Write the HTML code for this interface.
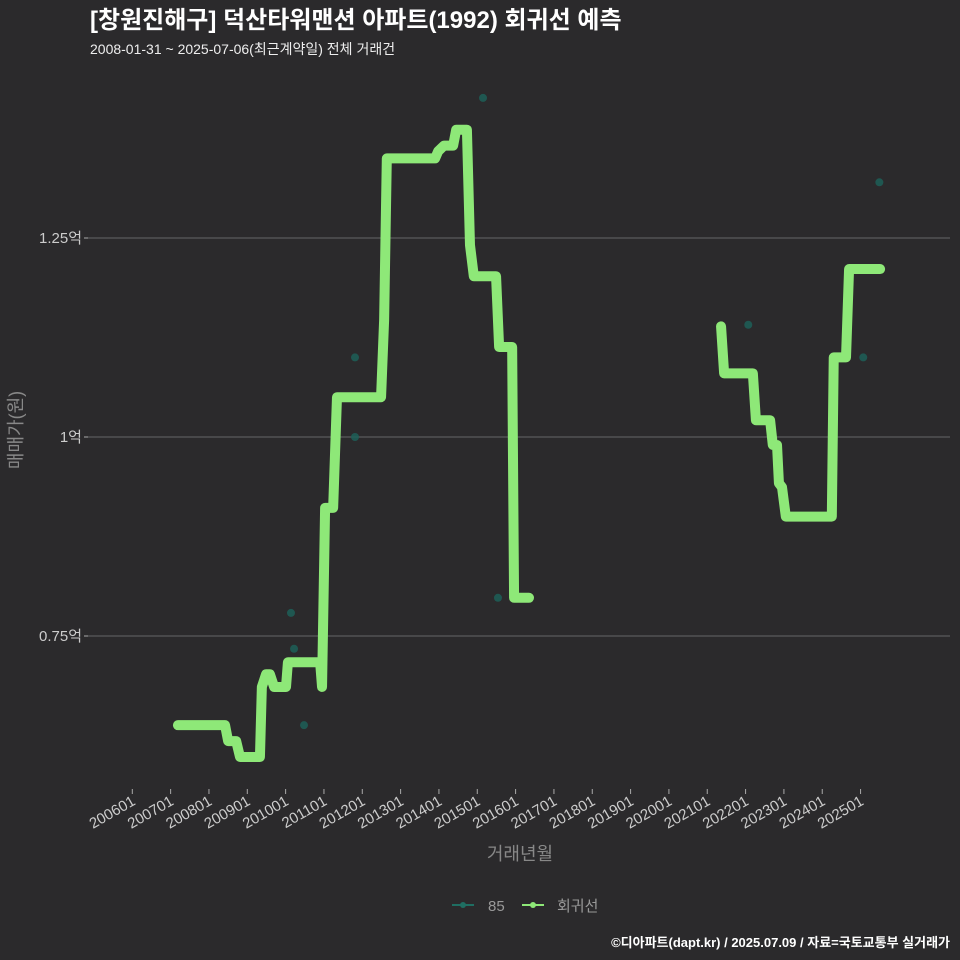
<!DOCTYPE html>
<html><head><meta charset="utf-8"><style>
body{margin:0;background:#2b2a2c;}
svg{display:block;font-family:"Liberation Sans","Noto Sans CJK KR",sans-serif;}
</style></head><body>
<svg width="960" height="960" viewBox="0 0 960 960">
<rect width="960" height="960" fill="#2b2a2c"/>
<text x="90" y="28" fill="#fff" font-size="24" font-weight="bold">[창원진해구] 덕산타워맨션 아파트(1992) 회귀선 예측</text>
<text x="90" y="54" fill="#eee" font-size="14">2008-01-31 ~ 2025-07-06(최근계약일) 전체 거래건</text>
<g id="grid"></g><g id="xaxis"></g><g id="pts"></g><g id="lines"></g>
<text transform="translate(22,430) rotate(-90)" text-anchor="middle" fill="#888" font-size="18">매매가(원)</text>
<text x="520" y="860" text-anchor="middle" fill="#888" font-size="18">거래년월</text>
<g>
<g><line x1="452" y1="905" x2="474" y2="905" stroke="#1f6e62" stroke-width="2"/><circle cx="463" cy="905" r="3" fill="#1f6e62"/><text x="488" y="911" fill="#999" font-size="15">85</text></g>
<g><line x1="522" y1="905" x2="544" y2="905" stroke="#8ee878" stroke-width="2"/><circle cx="533" cy="905" r="3" fill="#8ee878"/><text x="557" y="911" fill="#999" font-size="15">회귀선</text></g>
</g>
<text x="950" y="947" text-anchor="end" fill="#fff" font-size="13" font-weight="bold">©디아파트(dapt.kr) / 2025.07.09 / 자료=국토교통부 실거래가</text>
</svg>
<script>
const yTicks=[0.75,1,1.25];
const yTickLabels=["0.75억","1억","1.25억"];
const xTickYears=[2006,2007,2008,2009,2010,2011,2012,2013,2014,2015,2016,2017,2018,2019,2020,2021,2022,2023,2024,2025];
const seg1T=[2007.19,2008.42,2008.50,2008.71,2008.81,2009.33,2009.38,2009.49,2009.59,2009.70,2010.01,2010.06,2010.90,2010.95,2011.03,2011.24,2011.34,2012.49,2012.57,2012.64,2013.90,2013.98,2014.13,2014.37,2014.45,2014.73,2014.81,2014.91,2015.49,2015.57,2015.91,2015.96,2016.35];
const seg1V=[0.638,0.638,0.618,0.618,0.598,0.598,0.686,0.702,0.702,0.686,0.686,0.717,0.717,0.686,0.911,0.911,1.050,1.050,1.147,1.350,1.350,1.359,1.366,1.366,1.386,1.386,1.241,1.202,1.202,1.113,1.113,0.798,0.798];
const seg2T=[2021.36,2021.44,2022.19,2022.27,2022.64,2022.71,2022.82,2022.87,2022.95,2023.05,2024.25,2024.30,2024.62,2024.70,2025.51];
const seg2V=[1.139,1.080,1.080,1.021,1.021,0.990,0.990,0.942,0.937,0.900,0.900,1.100,1.100,1.211,1.211];
const ptT=[2015.15,2011.81,2011.81,2010.14,2010.22,2010.48,2015.54,2022.07,2025.07,2025.49,2013.85];
const ptV=[1.426,1.100,1.000,0.779,0.734,0.638,0.798,1.141,1.100,1.320,1.350];
const NS="http://www.w3.org/2000/svg";
const X=t=>132.3+(t-2006)*38.33;
const Y=v=>437-(v-1)*796;
function mk(tag,attrs,parent){const e=document.createElementNS(NS,tag);for(const k in attrs)e.setAttribute(k,attrs[k]);parent.appendChild(e);return e;}
const grid=document.getElementById('grid');
yTicks.forEach((v,i)=>{
 const l=mk('line',{x1:88,x2:950,y1:Y(v),y2:Y(v),stroke:'#5a5a5c','stroke-width':1.2},grid);
 
 
 const tk=mk('line',{x1:84,x2:88,y1:Y(v),y2:Y(v),stroke:'#aaa'},grid);
 
 
 const t=mk('text',{x:82,y:Y(v)+5,'text-anchor':'end',fill:'#ccc','font-size':15},grid);
 t.textContent=yTickLabels[i];
 
 
});
const xa=document.getElementById('xaxis');
xTickYears.forEach(y=>{
 const x=X(y);
 const tk=mk('line',{x1:x,x2:x,y1:789,y2:794,stroke:'#aaa'},xa);
 
 
 const t=mk('text',{transform:`translate(${x+4},${804}) rotate(-30)`,'text-anchor':'end',fill:'#ccc','font-size':15},xa);
 t.textContent=y+'01';
 
 
});
const pts=document.getElementById('pts');
ptT.forEach((t,i)=>{
 const c=mk('circle',{cx:X(t),cy:Y(ptV[i]),r:4,fill:'#1d5f58','fill-opacity':0.85},pts);
 
 
});
const lines=document.getElementById('lines');
[[seg1T,seg1V],[seg2T,seg2V]].forEach(([T,V])=>{
 const p=mk('polyline',{points:T.map((t,i)=>X(t)+','+Y(V[i])).join(' '),fill:'none',stroke:'#8ee878','stroke-width':10,'stroke-linejoin':'round','stroke-linecap':'round'},lines);
 
 
});
</script>
</body></html>
